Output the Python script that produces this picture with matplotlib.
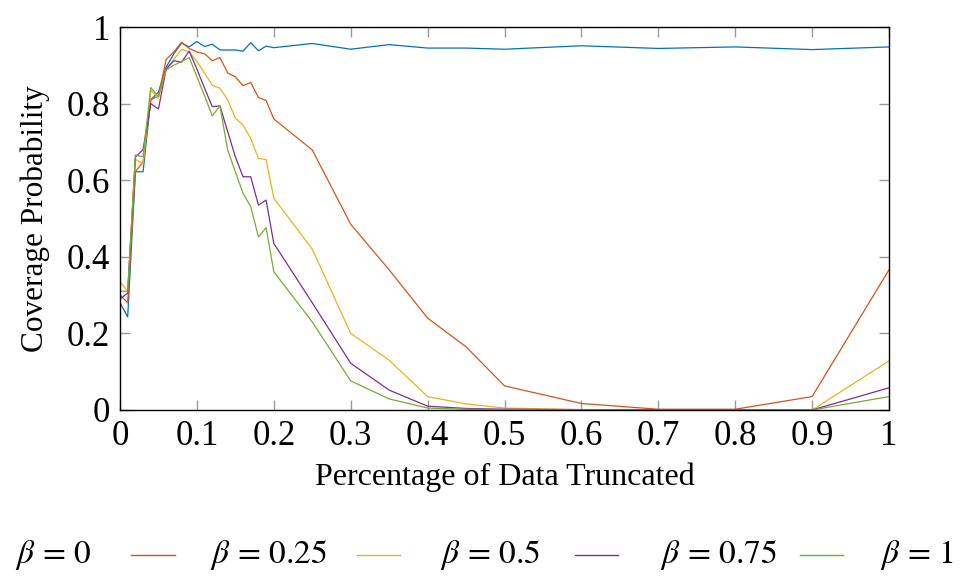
import matplotlib
matplotlib.use("Agg")
import matplotlib.pyplot as plt
from matplotlib.lines import Line2D

plt.rcParams['font.family'] = ['Liberation Serif', 'DejaVu Serif']
plt.rcParams['mathtext.fontset'] = 'stix'

x = [0, 0.01, 0.02, 0.03, 0.04, 0.05, 0.06, 0.07, 0.08, 0.09, 0.10, 0.11, 0.12, 0.13,
     0.14, 0.15, 0.16, 0.17, 0.18, 0.19, 0.20, 0.25, 0.30, 0.35, 0.40, 0.45, 0.50,
     0.60, 0.70, 0.80, 0.90, 1.00]

beta0 = [0.28, 0.243, 0.622, 0.622, 0.81, 0.83, 0.895, 0.93, 0.958, 0.948, 0.962, 0.949,
         0.955, 0.94, 0.94, 0.94, 0.937, 0.959, 0.938, 0.95, 0.946, 0.957, 0.942, 0.954,
         0.945, 0.945, 0.942, 0.951, 0.944, 0.948, 0.941, 0.948]
beta025 = [0.30, 0.28, 0.622, 0.648, 0.81, 0.82, 0.915, 0.935, 0.960, 0.944, 0.935, 0.930,
           0.912, 0.920, 0.880, 0.870, 0.847, 0.855, 0.816, 0.808, 0.760, 0.679, 0.485,
           0.366, 0.240, 0.165, 0.063, 0.017, 0.002, 0.002, 0.035, 0.366]
beta05 = [0.335, 0.31, 0.655, 0.642, 0.835, 0.815, 0.89, 0.915, 0.942, 0.935, 0.91, 0.88,
          0.848, 0.84, 0.81, 0.762, 0.744, 0.709, 0.657, 0.654, 0.553, 0.42, 0.20, 0.13,
          0.035, 0.016, 0.005, 0.001, 0.001, 0.001, 0.0, 0.128]
beta075 = [0.29, 0.305, 0.66, 0.68, 0.80, 0.786, 0.89, 0.912, 0.908, 0.937, 0.89, 0.84,
           0.792, 0.794, 0.727, 0.661, 0.609, 0.609, 0.535, 0.548, 0.435, 0.28, 0.122,
           0.052, 0.01, 0.004, 0.002, 0.001, 0.001, 0.001, 0.0, 0.058]
beta1 = [0.31, 0.31, 0.666, 0.661, 0.842, 0.818, 0.888, 0.90, 0.91, 0.92, 0.87, 0.82,
         0.768, 0.794, 0.679, 0.622, 0.566, 0.531, 0.452, 0.476, 0.361, 0.23, 0.076,
         0.029, 0.005, 0.002, 0.001, 0.0, 0.0, 0.0, 0.0, 0.035]

series = [beta0, beta025, beta05, beta075, beta1]
labels = [r'$\beta\,=\,0$', r'$\beta\,=\,0.25$', r'$\beta\,=\,0.5$', r'$\beta\,=\,0.75$', r'$\beta\,=\,1$']
colors = ['#0072BD', '#D95319', '#EDB120', '#7E2F8E', '#77AC30']

xticks = [0, 0.1, 0.2, 0.3, 0.4, 0.5, 0.6, 0.7, 0.8, 0.9, 1.0]
xticklabels = ['0', '0.1', '0.2', '0.3', '0.4', '0.5', '0.6', '0.7', '0.8', '0.9', '1']
yticks = [0, 0.2, 0.4, 0.6, 0.8, 1.0]
yticklabels = ['0', '0.2', '0.4', '0.6', '0.8', '1']

fig = plt.figure(figsize=(9.65, 5.81), dpi=100)
ax = fig.add_axes([120/965, 1-410/581, (889-120)/965, (410-27)/581])

for s, c in zip(series, colors):
    ax.plot(x, s, color=c, lw=0.9, clip_on=True)

ax.set_xlim(0, 1)
ax.set_ylim(0, 1)
ax.set_xticks(xticks)
ax.set_xticklabels(xticklabels)
ax.set_yticks(yticks)
ax.set_yticklabels(yticklabels)
ax.tick_params(direction='in', length=7.5, width=1.0, color='#999999',
               top=True, right=True, labelsize=25, pad=7)
for sp in ax.spines.values():
    sp.set_linewidth(1.0)
    sp.set_color('black')

ax.set_xlabel('Percentage of Data Truncated', fontsize=23, labelpad=7)
ax.set_ylabel('Coverage Probability', fontsize=22.5, labelpad=12)

# manual horizontal legend (first handle falls outside the figure, as in the reference)
text_left = [15, 210, 440, 660, 880]
line_spans = [(-64, -20), (131, 175), (357, 400), (575, 618), (800, 843)]
ly = 1 - 555/581
for lab, c, tl, (l0, l1) in zip(labels, colors, text_left, line_spans):
    fig.add_artist(Line2D([l0/965, l1/965], [ly, ly], transform=fig.transFigure,
                          color=c, lw=1.0))
    fig.text(tl/965, ly, lab, fontsize=24, va='center', ha='left')

fig.savefig('out.png', dpi=100)
